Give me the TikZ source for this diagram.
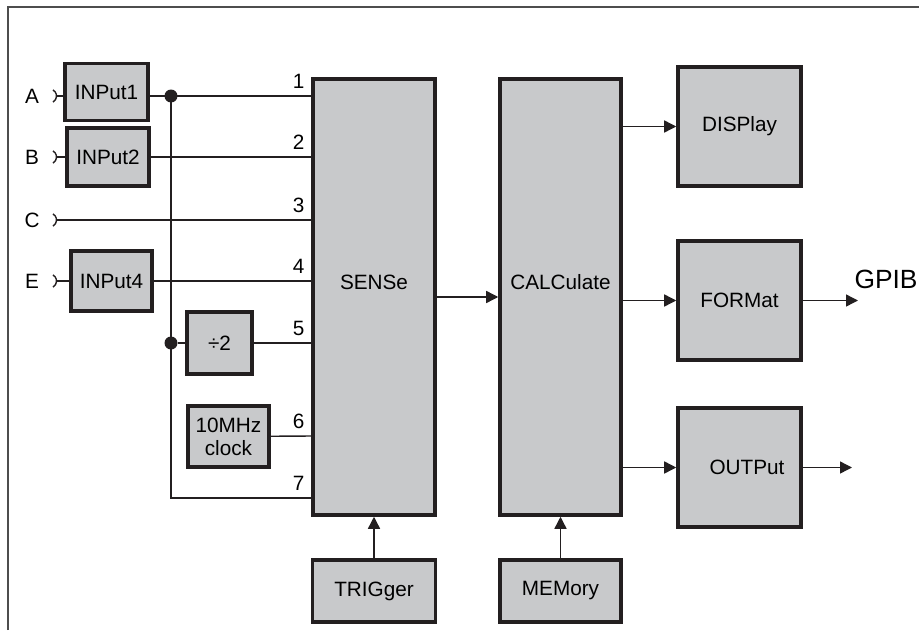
\documentclass[tikz,border=0pt]{standalone}
\usepackage{fontspec}
\setmainfont{Liberation Sans}
\usepackage{tikz}
\usetikzlibrary{arrows.meta,positioning,calc}
\definecolor{blockgray}{HTML}{C8C9CB}
\definecolor{linedark}{HTML}{231F20}
\definecolor{framegray}{HTML}{4D4D4D}
\tikzset{
  block/.style={draw=linedark, line width=2pt, fill=blockgray, align=center, inner sep=2pt, font=\fontsize{11.8}{13}\selectfont},
  wire/.style={draw=linedark, line width=0.8pt},
  arrow/.style={-{Triangle[length=2.4mm,width=2.4mm]}, draw=linedark, line width=0.8pt},
  junction/.style={circle, fill=linedark, inner sep=0pt, minimum size=2.6mm},
  portnum/.style={font=\fontsize{11.8}{13}\selectfont, anchor=south east, inner sep=1pt},
  inlabel/.style={font=\fontsize{11.8}{13}\selectfont},
  plug/.pic={\draw[linedark, line width=0.8pt] (-0.07,0.121) arc[start angle=60, end angle=-60, radius=0.14];}
}
\begin{document}
\begin{tikzpicture}[font=\fontsize{11.8}{13}\selectfont]
  \useasboundingbox (0,0) rectangle (18.38,12.6);
  \draw[framegray, line width=0.9pt] (0.16,0) |- (18.38,12.46);

  % inputs
  \node[block, minimum width=16.6mm, minimum height=11.4mm] (input1) at (2.13,10.76) {INPut1};
  \node[block, minimum width=16.4mm, minimum height=11.6mm] (input2) at (2.16,9.46) {INPut2};
  \node[block, minimum width=16.2mm, minimum height=12mm] (input4) at (2.23,6.98) {INPut4};
  \node[block, minimum width=13mm, minimum height=12.4mm] (divider) at (4.39,5.74) {÷2};
  \node[block, minimum width=16.2mm, minimum height=12.2mm] (clock) at (4.57,3.87) {10MHz\\clock};

  \coordinate (termA) at (1.13,10.68);
  \coordinate (termB) at (1.13,9.46);
  \coordinate (termC) at (1.13,8.2);
  \coordinate (termE) at (1.13,6.98);
  \foreach \t in {A,B,C,E}
    {\pic at (term\t) {plug};
     \node[inlabel] (lab\t) at ($(term\t)+(-0.49,0)$) {\t};}

  % main blocks
  \node[block, minimum width=24.4mm, minimum height=87.2mm, text depth=6mm] (sense) at (7.48,6.66) {SENSe};
  \node[block, minimum width=24.2mm, minimum height=87.2mm, text depth=6mm] (calc) at (11.21,6.66) {CALCulate};
  \node[block, minimum width=24.6mm, minimum height=12.4mm] (trigger) at (7.48,0.78) {TRIGger};
  \node[block, minimum width=24.2mm, minimum height=12.4mm] (memory) at (11.21,0.78) {MEMory};
  \node[block, minimum width=24.6mm, minimum height=23.8mm] (display) at (14.79,10.07) {DISPlay};
  \node[block, minimum width=24.6mm, minimum height=23.8mm] (format) at (14.79,6.59) {FORMat};
  \node[block, minimum width=24.6mm, minimum height=23.8mm] (output) at (14.79,3.25) {\hspace*{3mm}OUTPut};
  \node[font=\fontsize{15}{17}\selectfont] (gpib) at (17.72,7.02) {GPIB};
  \coordinate (gpibout) at (17.16,6.59);
  \coordinate (extout) at (17.04,3.25);

  % sense ports
  \foreach \n/\y in {1/10.68,2/9.46,3/8.2,4/6.98,5/5.74,6/3.88,7/2.64}
    {\coordinate (port\n) at (6.26,\y);
     \node[portnum] (num\n) at ($(port\n)+(-0.13,0.1)$) {\n};}

  \draw[wire] (termA) -- (termA -| input1.west);
  \draw[wire] (termB) -- (input2);
  \draw[wire] (termE) -- (input4);
  \draw[wire] (termC) -- (port3);
  \draw[wire] (input1.east |- port1) -- (port1);
  \draw[wire] (input2) -- (port2);
  \draw[wire] (input4) -- (port4);
  \draw[wire] (divider) -- (port5);
  \draw[wire] (clock) -- (port6);

  \node[junction] (tap1) at (3.42,10.68) {};
  \node[junction] (tap2) at (3.42,5.74) {};
  \draw[wire] (tap1.center) -- (tap2.center) |- (port7);
  \draw[wire] (tap2) -- (divider);

  \draw[arrow] (sense) -- (calc);
  \draw[arrow] (trigger) -- (sense);
  \draw[arrow] (memory) -- (calc);
  \draw[arrow] (calc.east |- display) -- (display);
  \draw[arrow] (calc.east |- format) -- (format);
  \draw[arrow] (calc.east |- output) -- (output);
  \draw[arrow] (format) -- (gpibout);
  \draw[arrow] (output) -- (extout);
\end{tikzpicture}
\end{document}
